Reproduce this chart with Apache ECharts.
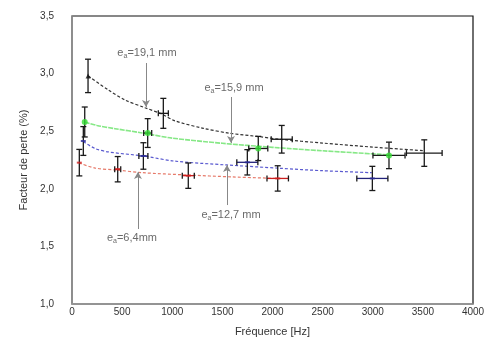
<!DOCTYPE html>
<html><head><meta charset="utf-8">
<script src="https://cdn.jsdelivr.net/npm/echarts@6/dist/echarts.min.js"></script>
<style>html,body{margin:0;padding:0;background:#fff}#c{width:489px;height:354px}</style>
</head><body><div id="c"></div>
<script>
// axis ranges / ticks
const xMin = 0, xMax = 4000, xStep = 500;
const yMin = 1.0, yMax = 3.5, yStep = 0.5;

// measured points: [frequency Hz, loss factor %, freq error, loss error]
const pts191 = [[160, 2.98, 0, 0.145], [911, 2.655, 50, 0.13], [2092, 2.43, 105, 0.12], [3514, 2.31, 178, 0.115]];
const pts159 = [[127, 2.58, 0, 0.13], [755, 2.484, 40, 0.125], [1858, 2.35, 95, 0.105], [3162, 2.29, 160, 0.115]];
const pts127 = [[113, 2.415, 0, 0.125], [712, 2.285, 45, 0.115], [1749, 2.23, 105, 0.11], [2996, 2.09, 155, 0.105]];
const pts64  = [[73, 2.227, 0, 0.115], [456, 2.17, 30, 0.11], [1160, 2.114, 60, 0.11], [2052, 2.09, 107, 0.11]];

// trend curves: [frequency, loss factor]
const fit191 = [[163, 2.979], [362, 2.858], [529, 2.771], [728, 2.704], [895, 2.649], [1027, 2.59], [1310, 2.525], [1576, 2.482], [1875, 2.452], [2075, 2.43], [2500, 2.397], [3000, 2.362], [3500, 2.331]];
const fit159 = [[127, 2.58], [250, 2.55], [430, 2.522], [700, 2.485], [1000, 2.44], [1500, 2.395], [2000, 2.36], [2500, 2.33], [3160, 2.295]];
const fit127 = [[113, 2.41], [229, 2.35], [362, 2.32], [712, 2.285], [1027, 2.24], [1543, 2.207], [2075, 2.178], [2500, 2.157], [2990, 2.14]];
const fit64  = [[70, 2.225], [230, 2.18], [456, 2.162], [700, 2.14], [1150, 2.12], [1600, 2.103], [2050, 2.09]];

// annotations: label text, label position, arrow start, arrow end (data coords)
const annText = ['19,1 mm', '15,9 mm', '12,7 mm', '6,4mm'];
const annAt   = [[748, 3.179], [1616, 2.875], [1586, 1.773], [598, 1.573]];
const annFrom = [[738, 3.092], [1586, 2.797], [1546, 1.859], [658, 1.651]];
const annTo   = [[738, 2.71], [1586, 2.398], [1546, 2.207], [658, 2.146]];

const FONT = '"Liberation Sans", Arial, sans-serif';
const chart = echarts.init(document.getElementById('c'), null, {renderer: 'canvas'});

function errSeries(data, hColor) {
  return {
    type: 'custom', data: data, z: 5,
    renderItem: function (params, api) {
      const x = api.value(0), y = api.value(1), dx = api.value(2), dy = api.value(3);
      const t = api.coord([x, y + dy]), b = api.coord([x, y - dy]);
      const st = {stroke: '#1a1a1a', lineWidth: 1.3};
      const ch = [
        {type: 'line', shape: {x1: t[0], y1: t[1], x2: b[0], y2: b[1]}, style: st},
        {type: 'line', shape: {x1: t[0] - 3, y1: t[1], x2: t[0] + 3, y2: t[1]}, style: st},
        {type: 'line', shape: {x1: b[0] - 3, y1: b[1], x2: b[0] + 3, y2: b[1]}, style: st}
      ];
      if (dx > 0) {
        const l = api.coord([x - dx, y]), r = api.coord([x + dx, y]);
        ch.push({type: 'line', shape: {x1: l[0], y1: l[1], x2: r[0], y2: r[1]}, style: {stroke: hColor, lineWidth: 1.3}});
        ch.push({type: 'line', shape: {x1: l[0], y1: l[1] - 3, x2: l[0], y2: l[1] + 3}, style: st});
        ch.push({type: 'line', shape: {x1: r[0], y1: r[1] - 3, x2: r[0], y2: r[1] + 3}, style: st});
      }
      return {type: 'group', children: ch};
    }
  };
}
function fitSeries(data, color, width, dash) {
  return {type: 'line', data: data, smooth: 0.3, symbol: 'none', z: 3,
    lineStyle: {color: color, width: width, type: dash}};
}
function markSeries(data, symbol, size, color) {
  return {type: 'scatter', data: data.map(d => [d[0], d[1]]), symbol: symbol, symbolSize: size, z: 6,
    itemStyle: {color: color}};
}

const annLabels = annText.map((t, i) => ({value: annAt[i], txt: t}));
const arrows = annFrom.map((f, i) => [{coord: f}, {coord: annTo[i]}]);

chart.setOption({
  animation: false,
  grid: {left: 72, right: 16, top: 16, bottom: 50, show: true, borderColor: '#111', borderWidth: 1.2},
  xAxis: {
    type: 'value', min: xMin, max: xMax, interval: xStep,
    name: 'Fréquence [Hz]', nameLocation: 'middle', nameGap: 22,
    nameTextStyle: {fontFamily: FONT, fontSize: 11, color: '#333'},
    axisLine: {lineStyle: {color: '#999', width: 1.5}},
    axisTick: {show: false}, splitLine: {show: false},
    axisLabel: {fontFamily: FONT, fontSize: 10, color: '#333', margin: 3, formatter: v => String(v)}
  },
  yAxis: {
    type: 'value', min: yMin, max: yMax, interval: yStep,
    name: 'Facteur de perte (%)', nameLocation: 'middle', nameGap: 42,
    nameTextStyle: {fontFamily: FONT, fontSize: 11, color: '#333'},
    axisLine: {show: true, lineStyle: {color: '#999', width: 1.5}},
    axisTick: {show: false}, splitLine: {show: false},
    axisLabel: {fontFamily: FONT, fontSize: 10, color: '#333', margin: 18,
      formatter: v => v.toFixed(1).replace('.', ',')}
  },
  series: [
    fitSeries(fit191, '#333', 1.2, [3, 2]),
    fitSeries(fit159, '#86e886', 1.6, [5, 1]),
    fitSeries(fit127, '#5a5ad0', 1.2, [3, 2]),
    fitSeries(fit64, '#e67a6a', 1.2, [3, 2]),
    errSeries(pts191, '#1a1a1a'),
    errSeries(pts159, '#1a1a1a'),
    errSeries(pts127, '#22227a'),
    errSeries(pts64, '#cc2020'),
    markSeries(pts191.slice(0, 1), 'triangle', 5, '#111'),
    markSeries(pts159, 'circle', 6, '#33dd33'),
    markSeries(pts127, 'rect', [5, 2], '#2a2a9a'),
    markSeries(pts64, 'rect', [5, 2], '#d02020'),
    {
      type: 'scatter', symbolSize: 0, z: 8,
      data: annLabels,
      label: {
        show: true, position: 'inside',
        formatter: p => '{e|e}{s|a}{e|=' + p.data.txt + '}',
        rich: {
          e: {fontFamily: FONT, fontSize: 11, color: '#444'},
          s: {fontFamily: FONT, fontSize: 7, color: '#444', verticalAlign: 'bottom', padding: [6, 0, 0, 0]}
        }
      },
      markLine: {
        silent: true, symbol: ['none', 'arrow'], symbolSize: [6, 7],
        lineStyle: {color: '#888', type: 'solid', width: 1},
        label: {show: false},
        data: arrows
      }
    }
  ]
});
</script></body></html>
